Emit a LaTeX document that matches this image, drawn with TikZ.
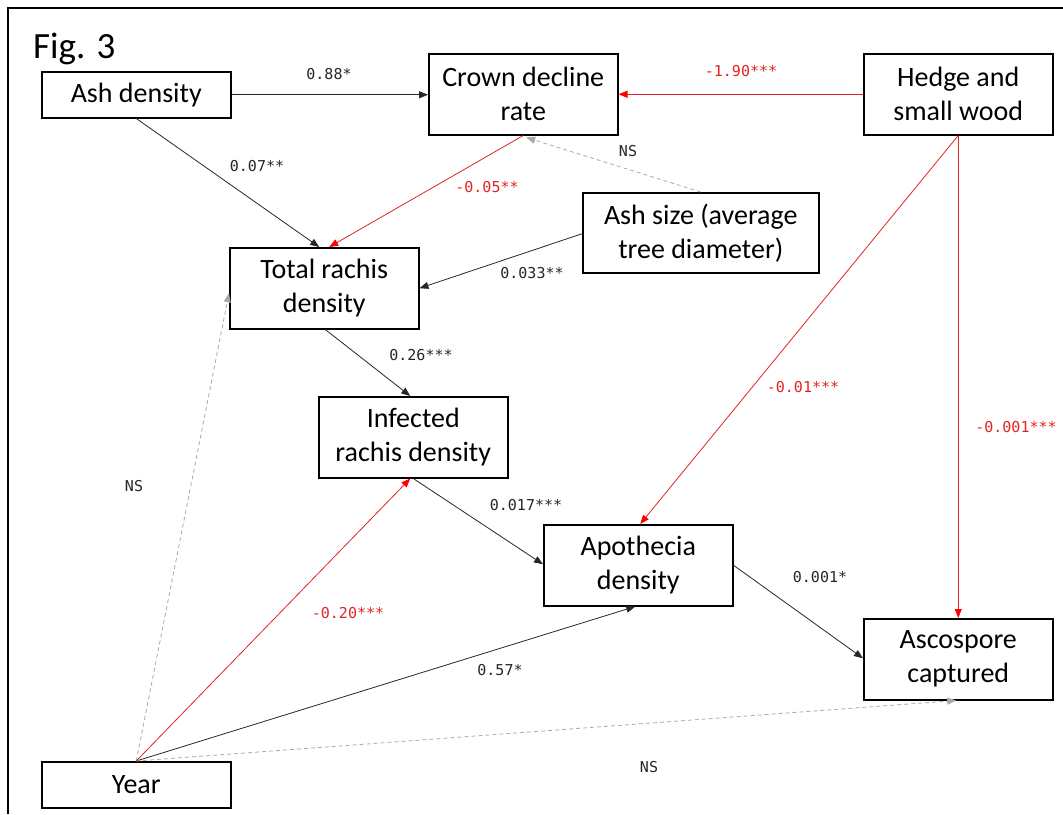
\documentclass[tikz,border=0pt]{standalone}
\usepackage{fontspec}
\setmainfont{Carlito}
\newfontfamily\monof{DejaVu Sans Mono}
\usetikzlibrary{arrows.meta,calc}
\definecolor{edgered}{RGB}{225,35,35}
\definecolor{nsgray}{RGB}{170,170,170}
\tikzset{
  box/.style={draw=black, line width=1.5pt, anchor=north west, inner sep=0pt,
    minimum width=189pt, align=center, font=\fontsize{28}{34}\selectfont},
  tall/.style={minimum height=81pt},
  short/.style={minimum height=46pt},
  blk/.style={draw=black!85, line width=0.8pt, -{Triangle[length=9pt,width=7pt]}},
  redl/.style={draw=edgered, line width=0.8pt, -{Triangle[length=9pt,width=7pt,fill=red,color=red]}},
  nsl/.style={draw=nsgray, line width=0.8pt, dash pattern=on 4pt off 3pt, -{Triangle[length=9pt,width=7pt]}},
  lab/.style={font=\monof\fontsize{15}{18}\selectfont, inner sep=0pt, text=black!85},
  rlab/.style={lab, text=edgered},
}
\begin{document}
\begin{tikzpicture}[x=1pt,y=-1pt]
\useasboundingbox (0,0) rectangle (1063,814);
\draw[line width=2pt] (8,814) -- (8,8) -- (1063,8);
\node[anchor=base west, font=\fontsize{37}{40}\selectfont, inner sep=0pt] (fig) at (33,58) {Fig. 3};

\node[box, short] (ashd) at (41,71) {Ash density};
\node[box, tall] (crown) at (428,53) {Crown decline\\rate};
\node[box, tall] (hedge) at (863,53) {Hedge and\\small wood};
\node[box, tall, minimum width=236pt, minimum height=80pt] (ashsize) at (582,192) {Ash size (average\\tree diameter)};
\node[box, tall] (total) at (229,247) {Total rachis\\density};
\node[box, tall] (infected) at (318,396) {Infected\\rachis density};
\node[box, tall] (apoth) at (543,524) {Apothecia\\density};
\node[box, tall] (asco) at (863,618) {Ascospore\\captured};
\node[box, short] (year) at (41,761) {Year};

% connectors
\draw[blk] (ashd.east) -- (ashd.east -| crown.west);
\draw[blk] (ashd.south) -- ($(total.north)+(-5,0)$);
\draw[redl] (hedge.west) -- (hedge.west -| crown.east);
\draw[redl] (crown.south) -- ($(total.north)+(5,0)$);
\draw[nsl] (ashsize.north) -- ($(crown.south)+(3,2)$);
\draw[blk] ($(ashsize.west)+(0,1)$) -- (total.east);
\draw[blk] ($(total.south)+(1,0)$) -- ($(infected.north)+(-3,0)$);
\draw[blk] (infected.south) -- ($(apoth.west)+(0,-1)$);
\draw[redl] (hedge.south) -- ($(apoth.north)+(2,0)$);
\draw[redl] (hedge.south) -- (asco.north);
\draw[blk] ($(apoth.east)+(0,0)$) -- ($(asco.west)+(0,-1)$);
\draw[nsl] (year.north) -- ($(total.west)+(0,5)$);
\draw[redl] (year.north) -- ($(infected.south)+(-3,0)$);
\draw[blk] (year.north) -- ($(apoth.south)+(-3,0)$);
\draw[nsl] (year.north) -- ($(asco.south)+(-2,0)$);

% labels
\node[lab] (l1) at (329,74) {0.88*};
\node[lab] (l2) at (257,166) {0.07**};
\node[rlab] (l3) at (741,71) {-1.90***};
\node[rlab] (l4) at (487,187) {-0.05**};
\node[lab] (l5) at (628,151) {NS};
\node[lab] (l6) at (532,273) {0.033**};
\node[lab] (l7) at (421,355) {0.26***};
\node[lab] (l8) at (526,505) {0.017***};
\node[rlab] (l9) at (803,387) {-0.01***};
\node[rlab] (l10) at (1016,427) {-0.001***};
\node[lab] (l11) at (820,577) {0.001*};
\node[lab] (l12) at (134,486) {NS};
\node[rlab] (l13) at (348,613) {-0.20***};
\node[lab] (l14) at (500,670) {0.57*};
\node[lab] (l15) at (649,767) {NS};
\end{tikzpicture}
\end{document}
